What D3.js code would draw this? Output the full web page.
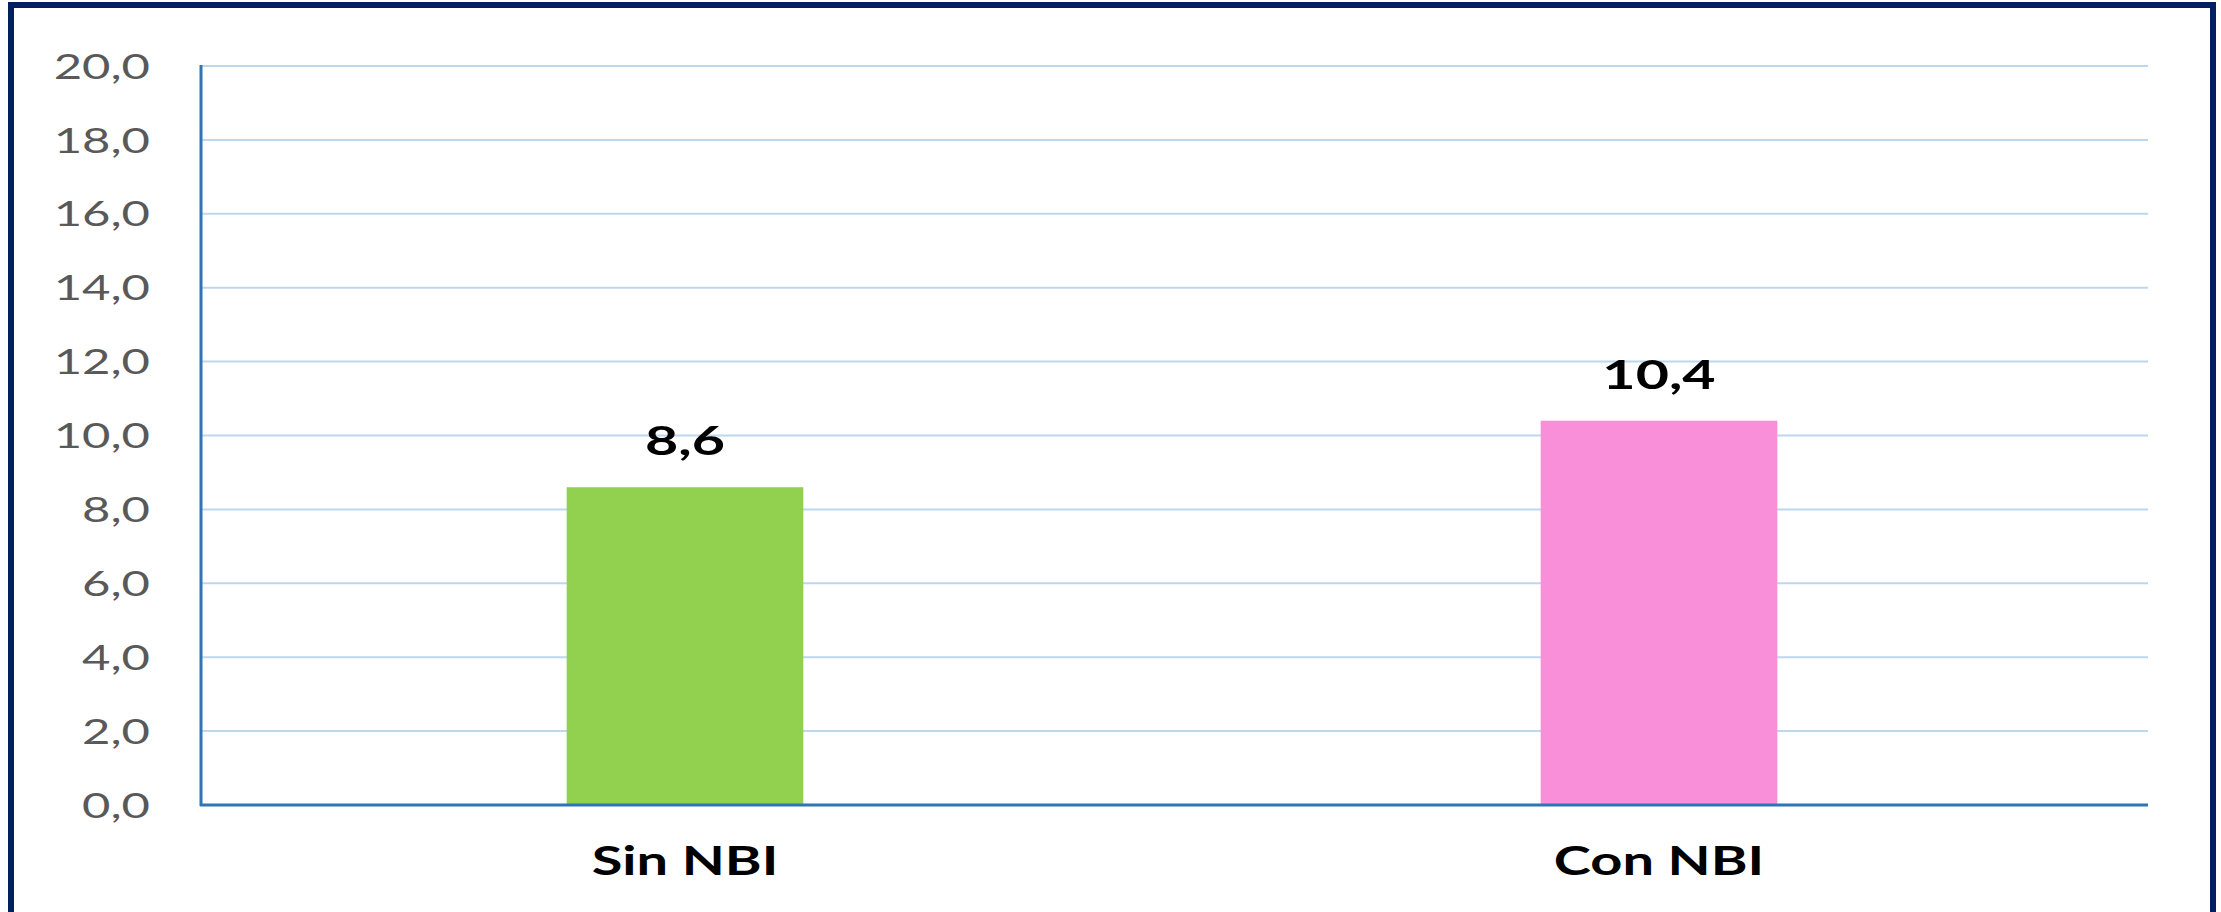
<!DOCTYPE html>
<html>
<head>
<meta charset="utf-8">
<script src="https://cdn.jsdelivr.net/npm/d3@7"></script>
<style>
  body { margin: 0; background: #fff; }
  text { font-family: Lato, "Open Sans", sans-serif; }
</style>
</head>
<body>
<svg id="chart"></svg>
<script>
const categories = ["Sin NBI", "Con NBI"];
const values = [8.6, 10.4];
const barColors = ["#92D050", "#F98FD9"];
const yTicks = [0, 2, 4, 6, 8, 10, 12, 14, 16, 18, 20];

const width = 2221;
const height = 912;
const stretch = 1.4; // the original's text is drawn wide

const svg = d3.select("#chart")
  .attr("width", width)
  .attr("height", height);

// frame (bottom edge runs off the picture)
svg.append("rect")
  .attr("x", 11)
  .attr("y", 5)
  .attr("width", 2202)
  .attr("height", 1000)
  .attr("fill", "#fff")
  .attr("stroke", "#002060")
  .attr("stroke-width", 6);

const x = d3.scaleBand()
  .domain(categories)
  .range([200, 2148]);

const y = d3.scaleLinear()
  .domain([0, 20])
  .range([805, 66]);

const fmt = v => v.toFixed(1).replace(".", ",");

// helper: text stretched horizontally around its anchor point
function wideText(sel, tx, ty, sx) {
  return sel.attr("transform", (d, i) => `translate(${tx(d, i)},${ty(d, i)}) scale(${sx},1)`);
}

// gridlines
svg.selectAll("line.grid")
  .data(yTicks.filter(d => d > 0))
  .join("line")
  .attr("class", "grid")
  .attr("x1", 200)
  .attr("x2", 2148)
  .attr("y1", d => y(d))
  .attr("y2", d => y(d))
  .attr("stroke", "#BDD7EE")
  .attr("stroke-width", 2);

// tick labels
wideText(
  svg.selectAll("text.tick")
    .data(yTicks)
    .join("text")
    .attr("class", "tick")
    .attr("text-anchor", "end")
    .attr("dy", "0.36em")
    .attr("font-size", 35)
    .attr("fill", "#595959")
    .text(d => fmt(d)),
  d => 150, d => y(d), stretch);

// bars
const barW = x.bandwidth() * 0.243;
svg.selectAll("rect.bar")
  .data(values)
  .join("rect")
  .attr("class", "bar")
  .attr("x", (d, i) => x(categories[i]) + x.bandwidth() / 2 - barW / 2 - 2)
  .attr("y", d => y(d))
  .attr("width", barW)
  .attr("height", d => y(0) - y(d))
  .attr("fill", (d, i) => barColors[i]);

// axes
svg.append("line")
  .attr("x1", 201).attr("x2", 201)
  .attr("y1", y(20) - 1).attr("y2", y(0) + 1)
  .attr("stroke", "#2E75B6")
  .attr("stroke-width", 3);

svg.append("line")
  .attr("x1", 200).attr("x2", 2148)
  .attr("y1", y(0)).attr("y2", y(0))
  .attr("stroke", "#2E75B6")
  .attr("stroke-width", 3);

// value labels
wideText(
  svg.selectAll("text.value")
    .data(values)
    .join("text")
    .attr("class", "value")
    .attr("text-anchor", "middle")
    .attr("font-size", 41)
    .attr("font-weight", "bold")
    .attr("fill", "#000")
    .text(d => fmt(d)),
  (d, i) => x(categories[i]) + x.bandwidth() / 2 - 2, d => y(d) - 32, stretch);

// category labels
wideText(
  svg.selectAll("text.cat")
    .data(categories)
    .join("text")
    .attr("class", "cat")
    .attr("text-anchor", "middle")
    .attr("font-size", 40)
    .attr("font-weight", "bold")
    .attr("fill", "#000")
    .text(d => d),
  d => x(d) + x.bandwidth() / 2 - 2, d => 875, stretch);
</script>
</body>
</html>
